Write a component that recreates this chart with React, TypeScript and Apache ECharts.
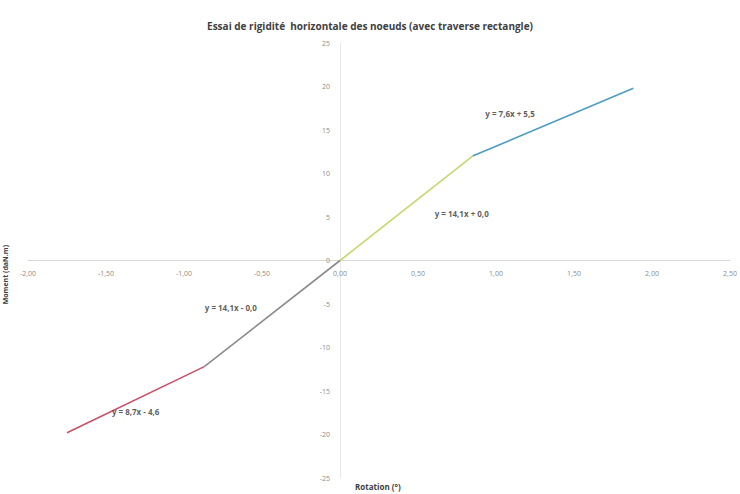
import React, { useEffect, useRef } from "react";
import * as echarts from "echarts";

const titleText = "Essai de rigidité  horizontale des noeuds (avec traverse rectangle)";
const xAxisTitle = "Rotation (°)";
const yAxisTitle = "Moment (daN.m)";

// Break points of the piecewise curve [rotation, moment]
const segRed: [number, number][] = [[-1.75, -19.8], [-0.87, -12.2]];
const segGray: [number, number][] = [[-0.87, -12.2], [0, 0]];
const segGreen: [number, number][] = [[0, 0], [0.85, 12.0]];
const segBlue: [number, number][] = [[0.85, 12.0], [1.88, 19.8]];

const segColors = ["#c9506b", "#8a8a8a", "#c6d86c", "#4f9cc2"];

const eqLabels = ["y = 8,7x - 4,6", "y = 14,1x - 0,0", "y = 14,1x + 0,0", "y = 7,6x + 5,5"];
const eqPositions: [number, number][] = [[-1.31, -17.4], [-0.7, -5.4], [0.78, 5.4], [1.09, 16.9]];

const xMin = -2;
const xMax = 2.5;
const xStep = 0.5;
const yMin = -25;
const yMax = 25;
const yStep = 5;

const GRID = { left: 28, right: 10, top: 43, bottom: 16 };
const W = 740;
const H = 494;

export default function App() {
  const ref = useRef<HTMLDivElement>(null);
  useEffect(() => {
    if (!ref.current) return;
    const chart = echarts.init(ref.current, null, { renderer: "svg" });
    const segs = [segRed, segGray, segGreen, segBlue];
    // shift axes so they cross at the origin (labels follow)
    const plotW = W - GRID.left - GRID.right;
    const plotH = H - GRID.top - GRID.bottom;
    const xZeroOffset = -((0 - xMin) / (xMax - xMin)) * plotW;
    const yZeroOffset = -((0 - yMin) / (yMax - yMin)) * plotH;
    chart.setOption({
      animation: false,
      backgroundColor: "#ffffff",
      title: {
        text: titleText,
        left: "center",
        top: 16,
        textStyle: { fontFamily: "Open Sans", fontSize: 10, fontWeight: "bold", color: "#404040" },
      },
      grid: GRID,
      xAxis: {
        type: "value",
        min: xMin,
        max: xMax,
        interval: xStep,
        position: "bottom",
        offset: yZeroOffset,
        axisLine: { onZero: false, lineStyle: { color: "#d9d9d9", width: 1 } },
        axisTick: { show: false },
        splitLine: { show: false },
        axisLabel: {
          color: "#8c8c8c",
          fontSize: 7,
          fontFamily: "Open Sans",
          margin: 9,
          formatter: (v: number) => v.toFixed(2).replace(".", ","),
        },
      },
      yAxis: {
        type: "value",
        min: yMin,
        max: yMax,
        interval: yStep,
        position: "left",
        offset: xZeroOffset,
        axisLine: { onZero: false, lineStyle: { color: "#e8e8e8", width: 1 } },
        axisTick: { show: false },
        splitLine: { show: false },
        axisLabel: {
          color: "#8c8c8c",
          fontSize: 7,
          fontFamily: "Open Sans",
          margin: 10,
          formatter: (v: number) => String(v),
        },
      },
      graphic: [
        {
          type: "text",
          left: 355,
          top: 482,
          style: { text: xAxisTitle, fontSize: 8, fontWeight: "bold", fontFamily: "Open Sans", fill: "#404040" },
        },
        {
          type: "text",
          left: 2,
          top: 245,
          rotation: Math.PI / 2,
          style: { text: yAxisTitle, fontSize: 7, fontWeight: "bold", fontFamily: "Open Sans", fill: "#404040" },
        },
      ],
      series: [
        ...segs.map((s, i) => ({
          type: "line",
          data: s,
          showSymbol: false,
          symbol: "none",
          lineStyle: { color: segColors[i], width: 1.6 },
          z: 3,
        })),
        {
          type: "scatter",
          symbolSize: 0,
          data: eqPositions.map((p, i) => ({ value: p, name: eqLabels[i] })),
          label: {
            show: true,
            position: "inside",
            formatter: (p: any) => p.name,
            fontSize: 8,
            fontWeight: "bold",
            fontFamily: "Open Sans",
            color: "#333333",
          },
          z: 5,
        },
      ],
    });
    return () => chart.dispose();
  }, []);
  return <div ref={ref} style={{ position: "fixed", left: 0, top: 0, width: W, height: H }} />;
}
